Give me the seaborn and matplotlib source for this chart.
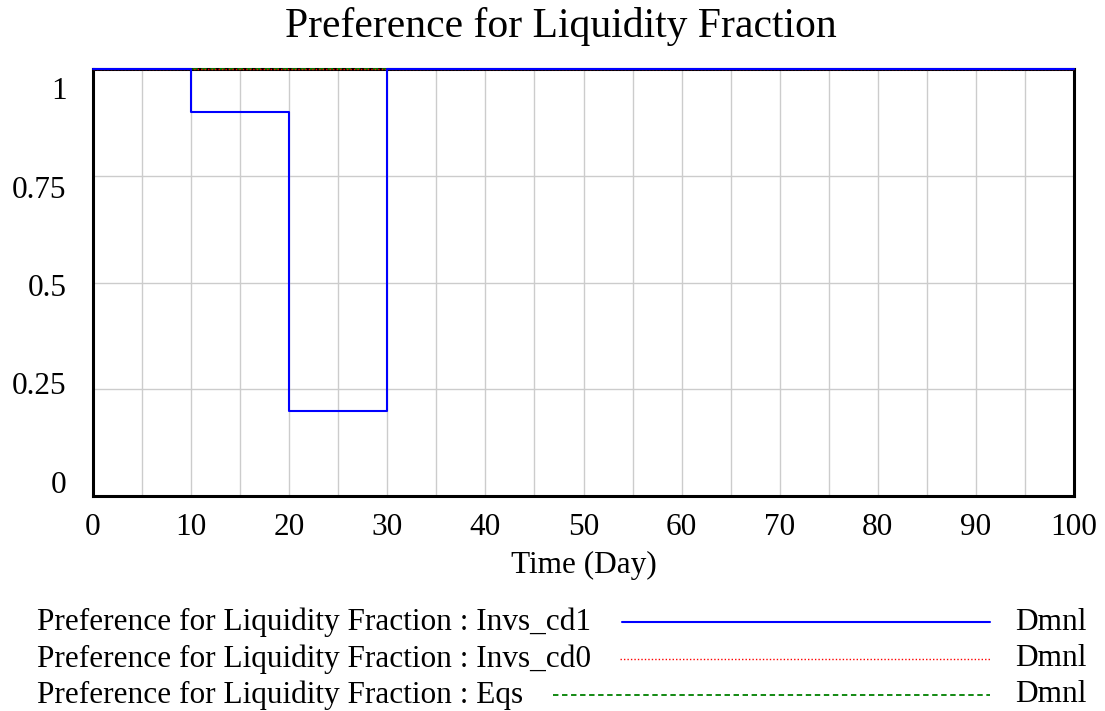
import pandas as pd
import matplotlib.pyplot as plt
import matplotlib.transforms as mtransforms
from matplotlib.lines import Line2D
import seaborn as sns

# step points (value holds until the next time)
time = [0, 10, 20, 30, 100]
invs_cd1 = [1, 0.9, 0.2, 1, 1]
invs_cd0 = [1, 1, 1, 1, 1]
eqs = [1, 1, 1, 1, 1]

series_names = ["Invs_cd1", "Invs_cd0", "Eqs"]
x_ticks = [0, 10, 20, 30, 40, 50, 60, 70, 80, 90, 100]
y_ticks = [0, 0.25, 0.5, 0.75, 1]
y_labels = ["0", "0.25", "0.5", "0.75", "1"]

sns.set_style("white")
plt.rcParams["font.family"] = ["Liberation Serif", "DejaVu Serif"]
plt.rcParams["text.color"] = "black"
plt.rcParams["xtick.color"] = "black"
plt.rcParams["ytick.color"] = "black"
plt.rcParams["axes.labelcolor"] = "black"

fig = plt.figure(figsize=(11.05, 7.11), dpi=100)
W, H = 1105, 711
ax = fig.add_axes([93 / W, 1 - 496 / H, (1074 - 93) / W, (496 - 69) / H])

df = pd.DataFrame({"time": time, "Invs_cd1": invs_cd1, "Invs_cd0": invs_cd0, "Eqs": eqs})

# draw order: Eqs, cd0 under blue cd1
sns.lineplot(data=df, x="time", y="Eqs", ax=ax, color="#008000", lw=1.3,
             linestyle=(0, (3, 2)), drawstyle="steps-post", clip_on=False, zorder=3)
sns.lineplot(data=df, x="time", y="Invs_cd0", ax=ax, color="#ff0000", lw=1.0,
             linestyle=(0, (1, 1.5)), drawstyle="steps-post", clip_on=False, zorder=4)
sns.lineplot(data=df, x="time", y="Invs_cd1", ax=ax, color="#0000ff", lw=1.5,
             drawstyle="steps-post", clip_on=False, zorder=5)

ax.set_xlim(0, 100)
ax.set_ylim(0, 1)
ax.set_xticks(range(0, 101, 5), minor=False)
ax.set_xticklabels([str(t) if t in x_ticks else "" for t in range(0, 101, 5)], fontsize=22.5)
ax.set_yticks(y_ticks)
ax.set_yticklabels(y_labels, fontsize=22.5)
ax.tick_params(axis="both", length=0)
ax.tick_params(axis="x", pad=12)
ax.tick_params(axis="y", pad=19)
ax.grid(True, color="#cccccc", lw=1)
ax.set_axisbelow(True)
for s in ax.spines.values():
    s.set_color("black")
    s.set_linewidth(2.2)
    s.set_visible(True)

# Vensim-style label spread: top label sits below its line, bottom above
for lbl, v in zip(ax.get_yticklabels(), y_ticks):
    off = (-14 + 33 * v) / 100.0
    lbl.set_transform(lbl.get_transform() + mtransforms.ScaledTranslation(0, -off, fig.dpi_scale_trans))

ax.set_xlabel("Time (Day)", fontsize=22.5, labelpad=7)
ax.set_ylabel("")
fig.text(561 / W, 1 - 26 / H, "Preference for Liquidity Fraction", fontsize=30,
         ha="center", va="center")

# legend
rows = [(622, "#0000ff", "-", 1.5, 622), (659, "#ff0000", (0, (1, 1.5)), 1.0, 620),
        (695, "#008000", (0, (3, 2)), 1.3, 553)]
for name, (y, c, ls, lw, x0) in zip(series_names, rows):
    fy = 1 - y / H
    fig.text(37 / W, fy, "Preference for Liquidity Fraction : " + name, fontsize=22.5,
             ha="left", va="center")
    fig.add_artist(Line2D([x0 / W, 990 / W], [fy, fy], color=c, linestyle=ls, lw=lw))
    fig.text(1015 / W, fy, "Dmnl", fontsize=22.5, ha="left", va="center")

plt.savefig("out.png", dpi=100, facecolor="white")
plt.close()
